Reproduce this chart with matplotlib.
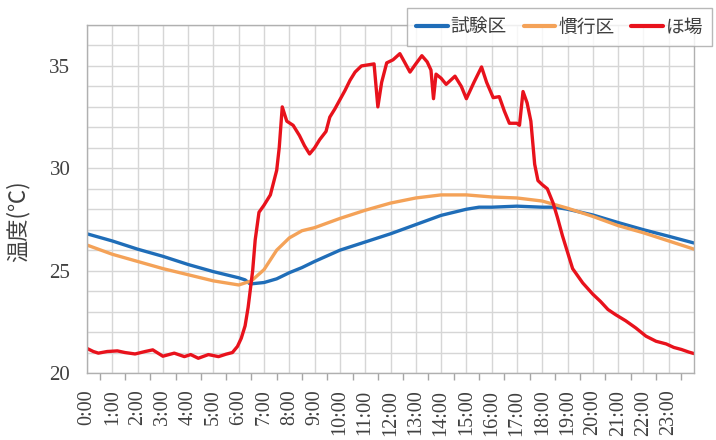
import matplotlib
matplotlib.use("Agg")
import matplotlib.pyplot as plt
from matplotlib.ticker import MultipleLocator, FixedLocator

# Temperature records over one day (hours since 0:00, deg C)
test_hours = [0, 1, 2, 3, 4, 5, 6, 6.25, 6.45, 7, 7.5, 8, 8.5, 9, 10, 11, 12,
              13, 14, 15, 15.5, 16, 17, 18, 18.5, 19, 20, 21, 22, 23, 24]
test_temp = [26.8, 26.45, 26.05, 25.7, 25.3, 24.95, 24.65, 24.55, 24.35, 24.42,
             24.6, 24.9, 25.15, 25.45, 26.0, 26.4, 26.8, 27.25, 27.7, 28.0,
             28.1, 28.1, 28.15, 28.1, 28.1, 28.0, 27.72, 27.35, 27.0, 26.68,
             26.35]

conv_hours = [0, 1, 2, 3, 4, 5, 6, 6.5, 7, 7.5, 8, 8.5, 9, 10, 11, 12, 13, 14,
              15, 16, 17, 18, 19, 20, 21, 22, 23, 24]
conv_temp = [26.25, 25.8, 25.45, 25.1, 24.8, 24.5, 24.3, 24.5, 25.05, 26.0,
             26.6, 26.95, 27.1, 27.55, 27.95, 28.3, 28.55, 28.7, 28.7, 28.6,
             28.55, 28.4, 28.05, 27.65, 27.2, 26.85, 26.45, 26.05]

field_hours = [0.0, 0.25, 0.45, 0.8, 1.2, 1.5, 1.9, 2.3, 2.6, 3.0, 3.45, 3.85,
               4.1, 4.4, 4.8, 5.2, 5.5, 5.75, 5.95, 6.1, 6.25, 6.37, 6.47,
               6.55, 6.65, 6.8, 7.0, 7.25, 7.5, 7.6, 7.72, 7.9, 8.15, 8.4,
               8.6, 8.8, 9.0, 9.2, 9.45, 9.6, 9.8, 10.0, 10.2, 10.4, 10.6,
               10.85, 11.1, 11.35, 11.5, 11.65, 11.85, 12.1, 12.37, 12.55,
               12.77, 13.0, 13.24, 13.45, 13.6, 13.7, 13.8, 14.0, 14.2, 14.55,
               14.8, 15.0, 15.3, 15.6, 15.8, 16.06, 16.3, 16.5, 16.7, 17.0,
               17.1, 17.24, 17.4, 17.55, 17.7, 17.83, 18.0, 18.2, 18.43, 18.6,
               18.8, 19.0, 19.2, 19.6, 20.0, 20.3, 20.6, 20.9, 21.3, 21.7,
               22.1, 22.5, 22.9, 23.2, 23.5, 23.8, 24.0]
field_temp = [21.2, 21.05, 20.97, 21.05, 21.08, 21.0, 20.93, 21.05, 21.13,
              20.82, 20.97, 20.8, 20.9, 20.72, 20.9, 20.8, 20.92, 21.0, 21.3,
              21.7, 22.3, 23.2, 24.2, 25.0, 26.5, 27.85, 28.2, 28.7, 29.9,
              31.0, 33.0, 32.3, 32.1, 31.6, 31.1, 30.7, 31.0, 31.4, 31.8,
              32.5, 32.9, 33.35, 33.8, 34.3, 34.7, 35.0, 35.05, 35.1, 33.0,
              34.2, 35.15, 35.3, 35.6, 35.2, 34.7, 35.1, 35.5, 35.2, 34.8,
              33.4, 34.6, 34.4, 34.1, 34.5, 34.0, 33.4, 34.2, 34.95, 34.2,
              33.45, 33.5, 32.8, 32.2, 32.2, 32.1, 33.75, 33.2, 32.3, 30.2,
              29.4, 29.2, 29.0, 28.3, 27.6, 26.7, 25.9, 25.1, 24.4, 23.85,
              23.5, 23.1, 22.85, 22.55, 22.2, 21.8, 21.55, 21.42, 21.25,
              21.15, 21.02, 20.95]

hour_labels = [f"{h}:00" for h in range(24)]
series_names = ["試験区", "慣行区", "ほ場"]
series_colors = ["#1f6db8", "#f4a258", "#e8121c"]

plt.rcParams["font.family"] = ["Liberation Serif", "Noto Sans CJK JP"]
text_color = "#404040"
grid_color = "#d6d6d6"

fig = plt.figure(figsize=(7.16, 4.40), dpi=100)
ax = fig.add_axes([87 / 716, 1 - 373 / 440, (694 - 87) / 716, (373 - 25) / 440])

lines = []
for hrs, vals, name, col in zip([test_hours, conv_hours, field_hours],
                                [test_temp, conv_temp, field_temp],
                                series_names, series_colors):
    ln, = ax.plot(hrs, vals, color=col, lw=2.4, label=name,
                  solid_joinstyle="round", solid_capstyle="round")
    lines.append(ln)

ax.set_xlim(0, 24)
ax.set_ylim(20, 37)

ax.xaxis.set_major_locator(FixedLocator(list(range(24))))
ax.set_xticklabels(hour_labels, rotation=90)
ax.xaxis.set_minor_locator(FixedLocator([h + 0.5 for h in range(24)]))
ax.tick_params(axis="x", which="major", length=0, pad=12, labelsize=14.5,
               labelcolor=text_color)
ax.tick_params(axis="x", which="minor", length=5, width=1, color="#a6a6a6",
               direction="out")

ax.yaxis.set_major_locator(FixedLocator([20, 25, 30, 35]))
ax.yaxis.set_minor_locator(MultipleLocator(1))
ax.tick_params(axis="y", which="both", length=0, pad=12, labelsize=15,
               labelcolor=text_color)

ax.grid(True, which="major", axis="x", color=grid_color, lw=1)
ax.grid(True, which="both", axis="y", color=grid_color, lw=1)
ax.set_axisbelow(True)

for side in ["left", "bottom", "right", "top"]:
    ax.spines[side].set_color("#b0b0b0")
    ax.spines[side].set_linewidth(1)

ax.set_ylabel("温度(℃)", fontsize=16, color=text_color,
              family=["Noto Sans CJK JP", "DejaVu Sans"])
ax.yaxis.set_label_coords(-0.095, 0.435)

leg = fig.legend(handles=lines, labels=series_names, ncol=3,
                 loc="upper right", bbox_to_anchor=(712 / 716, 1 - 8 / 440),
                 frameon=True, fancybox=False, borderaxespad=0,
                 handlelength=1.7, handletextpad=0.15, columnspacing=0.9,
                 borderpad=0.45,
                 prop={"family": ["Noto Sans CJK JP", "DejaVu Sans"],
                       "size": 13.5})
leg.get_frame().set_edgecolor("#a6a6a6")
leg.get_frame().set_linewidth(1)
for t in leg.get_texts():
    t.set_color(text_color)
for h in leg.legend_handles:
    h.set_linewidth(3)

fig.savefig("out.png", dpi=100)
